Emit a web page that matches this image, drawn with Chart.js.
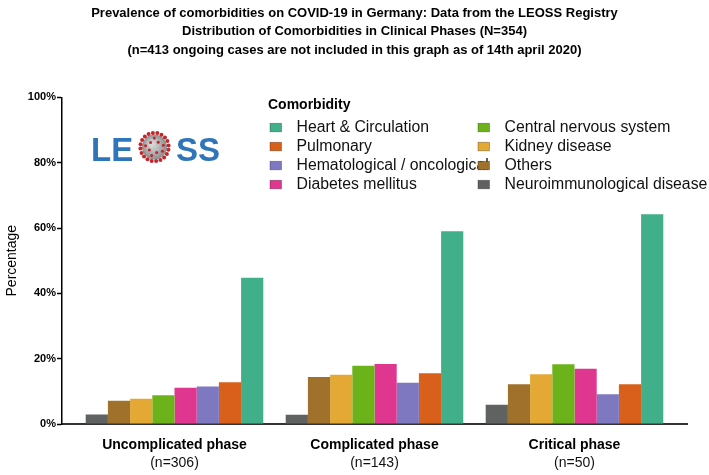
<!DOCTYPE html>
<html><head><meta charset="utf-8">
<script src="https://cdn.jsdelivr.net/npm/chart.js@4/dist/chart.umd.min.js"></script>
<style>html,body{margin:0;padding:0;background:#fff;}canvas{display:block;}</style>
</head><body>
<canvas id="c" width="709" height="475"></canvas>
<script>
// ---------- data ----------
const categories = ['Uncomplicated phase', 'Complicated phase', 'Critical phase'];
const caseCounts = [306, 143, 50];
const seriesNames = ['Neuroimmunological disease', 'Others', 'Kidney disease', 'Central nervous system',
  'Diabetes mellitus', 'Hematological / oncological', 'Pulmonary', 'Heart & Circulation'];
const neuroimmunological = [2.9, 2.8, 5.9];
const others = [7.1, 14.4, 12.2];
const kidney = [7.7, 15.1, 15.2];
const centralNervous = [8.8, 17.8, 18.3];
const diabetes = [11.1, 18.4, 16.9];
const hematological = [11.5, 12.6, 9.1];
const pulmonary = [12.8, 15.5, 12.2];
const heartCirculation = [44.8, 59.0, 64.2];
const yTickValues = [0, 20, 40, 60, 80, 100];
const titleLines = [
  'Prevalence of comorbidities on COVID-19 in Germany: Data from the LEOSS Registry',
  'Distribution of Comorbidities in Clinical Phases (N=354)',
  '(n=413 ongoing cases are not included in this graph as of 14th april 2020)'
];
const yAxisTitle = 'Percentage';
const legendTitle = 'Comorbidity';
const logoParts = ['LE', 'SS'];

// ---------- styles ----------
const seriesValues = [neuroimmunological, others, kidney, centralNervous, diabetes, hematological, pulmonary, heartCirculation];
const seriesColors = ['#5f6261', '#9f712b', '#e3a934', '#6cb31b', '#df3790', '#7e78c1', '#d8601a', '#40af8a'];
const FONT = '"Liberation Sans", Arial, Helvetica, sans-serif';
const NARROW = '"Liberation Sans Narrow", "Arial Narrow", "Liberation Sans", Arial, sans-serif';

const datasets = seriesNames.map((name, i) => ({
  label: name,
  data: seriesValues[i],
  backgroundColor: seriesColors[i],
  borderWidth: 0,
  categoryPercentage: 0.888,
  barPercentage: 1.0
}));

const extrasPlugin = {
  id: 'extras',
  afterDraw(chart) {
    const ctx = chart.ctx;
    const xs = chart.scales.x;
    const area = chart.chartArea;
    ctx.save();
    // n labels under categories
    ctx.fillStyle = '#111';
    ctx.font = '14px ' + FONT;
    ctx.textAlign = 'center';
    ctx.textBaseline = 'middle';
    caseCounts.forEach((n, i) => {
      ctx.fillText('(n=' + n + ')', xs.getPixelForTick(i), area.bottom + 39);
    });

    // legend
    ctx.textAlign = 'left';
    ctx.fillStyle = '#000';
    ctx.font = 'bold 14px ' + FONT;
    ctx.fillText(legendTitle, 268, 105);
    ctx.font = '15.8px ' + FONT;
    const order = datasets.map((d, i) => i).reverse();
    const colX = [270, 478];
    const rowY = [127.3, 146.3, 165.3, 184.3];
    order.forEach((di, k) => {
      const col = Math.floor(k / 4), row = k % 4;
      const x = colX[col], y = rowY[row];
      ctx.fillStyle = '#111';
      ctx.fillText(datasets[di].label, x + 26.5, y + 0.5);
      ctx.fillStyle = seriesColors[di];
      ctx.fillRect(x, y - 4, 11.5, 8.5);
      ctx.strokeStyle = 'rgba(0,0,0,0.35)';
      ctx.lineWidth = 0.8;
      ctx.strokeRect(x, y - 4, 11.5, 8.5);
    });

    // logo
    ctx.fillStyle = '#2e75ba';
    ctx.font = 'bold 33px ' + FONT;
    ctx.textBaseline = 'alphabetic';
    ctx.fillText(logoParts[0], 91, 161);
    ctx.fillText(logoParts[1], 176, 161);
    // virus
    const cx = 154.5, cy = 147, r = 12.5;
    const g = ctx.createRadialGradient(cx - 3, cy - 3, 2, cx, cy, r);
    g.addColorStop(0, '#d6d6d6');
    g.addColorStop(1, '#8d8d8d');
    ctx.fillStyle = g;
    ctx.beginPath(); ctx.arc(cx, cy, r, 0, Math.PI * 2); ctx.fill();
    ctx.fillStyle = '#c1272d';
    for (let k = 0; k < 20; k++) {
      const a = k / 20 * Math.PI * 2 + 0.2;
      ctx.beginPath(); ctx.arc(cx + Math.cos(a) * 14.2, cy + Math.sin(a) * 14.2, 2.0, 0, Math.PI * 2); ctx.fill();
    }
    for (let k = 0; k < 9; k++) {
      const a = k / 9 * Math.PI * 2 + 0.5;
      const rr = (k % 2) ? 6 : 9;
      ctx.beginPath(); ctx.arc(cx + Math.cos(a) * rr, cy + Math.sin(a) * rr, 1.5, 0, Math.PI * 2); ctx.fill();
    }
    ctx.restore();
  }
};

new Chart(document.getElementById('c'), {
  type: 'bar',
  data: { labels: categories, datasets },
  options: {
    responsive: false,
    animation: false,
    devicePixelRatio: 1,
    layout: { padding: { left: 0, right: 0, top: 0, bottom: 0 } },
    plugins: {
      legend: { display: false },
      tooltip: { enabled: false },
      title: {
        display: true,
        text: titleLines,
        color: '#000',
        font: { family: NARROW, size: 13, weight: 'bold', lineHeight: 1.42 },
        padding: { top: 4, bottom: 38 }
      }
    },
    scales: {
      x: {
        offset: true,
        grid: { display: false },
        border: { display: true, color: '#333', width: 2 },
        ticks: { color: '#000', font: { family: FONT, size: 14, weight: 'bold' }, padding: 5, maxRotation: 0 },
        afterBuildTicks(scale) {
          const span = 3.125;
          scale._valueRange = span;
          scale._startValue = -(span - (categories.length - 1)) / 2;
        },
        afterFit(scale) { scale.height = 51; }
      },
      y: {
        min: 0, max: 100,
        grid: { display: true, drawOnChartArea: false, drawTicks: true, tickLength: 5, tickColor: '#000', tickWidth: 1.5 },
        border: { display: true, color: '#000', width: 1.5 },
        ticks: { color: '#000', font: { family: FONT, size: 11, weight: 'bold' }, padding: 1, callback: v => v + '%' },
        afterBuildTicks(scale) { scale.ticks = yTickValues.map(v => ({ value: v })); },
        title: { display: true, text: yAxisTitle, color: '#000', font: { family: FONT, size: 14 }, padding: { top: 4, bottom: 0 } },
        afterFit(scale) { scale.width = 62; }
      },
      spacer: {
        type: 'linear',
        position: 'right',
        display: true,
        grid: { display: false },
        border: { display: false },
        ticks: { display: false },
        afterFit(scale) { scale.width = 22; }
      }
    }
  },
  plugins: [extrasPlugin]
});
</script>
</body></html>
